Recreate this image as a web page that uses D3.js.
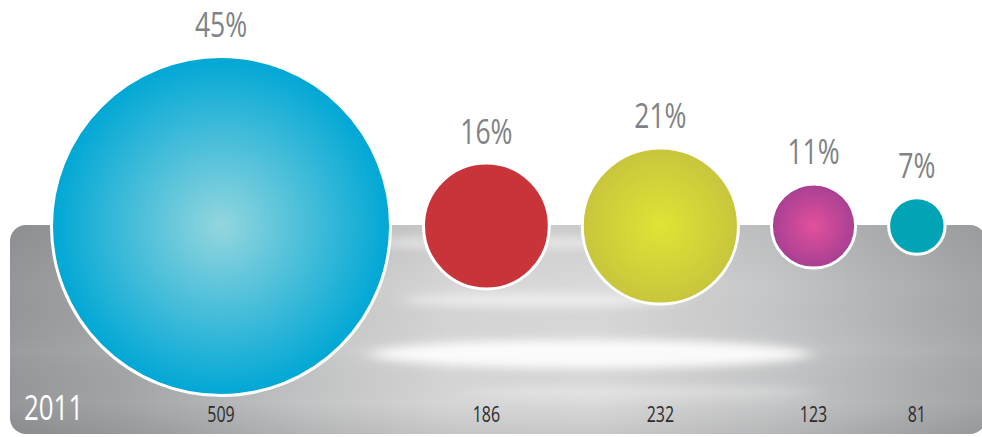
<!DOCTYPE html>
<html>
<head>
<meta charset="utf-8">
<script src="https://cdn.jsdelivr.net/npm/d3@7"></script>
<style>
  html, body { margin: 0; padding: 0; background: #ffffff; }
  svg { display: block; }
  text { font-family: "Open Sans", "Noto Sans", sans-serif; }
</style>
</head>
<body>
<svg id="chart" width="982" height="437"></svg>
<script>
// Values for 2011
const year = "2011";
const counts = [509, 186, 232, 123, 81];
const shares = [45, 16, 21, 11, 7];
const shareLabels = ["45%", "16%", "21%", "11%", "7%"];
const fills = [
  { center: "#93d6de", edge: "#00a7d5" },
  { center: "#c9333a", edge: "#c9333a" },
  { center: "#dfe435", edge: "#c8c53c" },
  { center: "#e2519b", edge: "#a73f93" },
  { center: "#00a4b5", edge: "#00a4b5" }
];

const W = 982, H = 437;
const svg = d3.select("#chart");
const defs = svg.append("defs");

// Radius grows linearly with the count
const r = d3.scaleLinear().domain([0, d3.max(counts)]).range([0, 168]);
const strokeW = 3;
const gap = 30;
const leftEdge = 50;
const cy = 226;
const narrow = 0.76; // horizontal squeeze for a condensed look

// Lay circles out left to right, edge to edge with a fixed gap
const xs = [];
let cursor = leftEdge;
counts.forEach((v, i) => {
  const outer = r(v) + strokeW;
  xs.push(cursor + outer);
  cursor += outer * 2 + gap;
});

// ---- Brushed metal panel ----
const panel = { x: 10, y: 225, w: 976, h: 209, rx: 16 };

const metal = defs.append("linearGradient").attr("id", "metal")
  .attr("x1", "0%").attr("x2", "100%").attr("y1", "0%").attr("y2", "0%");
[
  [0, "#95979a"], [0.12, "#a3a5a7"], [0.3, "#c2c3c4"], [0.45, "#d6d6d6"],
  [0.6, "#d9d9d9"], [0.78, "#c6c7c8"], [0.92, "#aeb0b2"], [1, "#a2a4a6"]
].forEach(([o, c]) => metal.append("stop").attr("offset", o).attr("stop-color", c));

const vshade = defs.append("linearGradient").attr("id", "vshade")
  .attr("x1", "0%").attr("x2", "0%").attr("y1", "0%").attr("y2", "100%");
[
  [0, "#000", 0.06], [0.3, "#000", 0], [0.6, "#fff", 0.05], [0.85, "#000", 0], [1, "#000", 0.08]
].forEach(([o, c, a]) => vshade.append("stop").attr("offset", o).attr("stop-color", c).attr("stop-opacity", a));

defs.append("clipPath").attr("id", "panelClip")
  .append("rect").attr("x", panel.x).attr("y", panel.y)
  .attr("width", panel.w).attr("height", panel.h).attr("rx", panel.rx);

defs.append("filter").attr("id", "glow").attr("x", "-50%").attr("y", "-200%")
  .attr("width", "200%").attr("height", "500%")
  .append("feGaussianBlur").attr("stdDeviation", "10 5");

defs.append("filter").attr("id", "streakBlur").attr("x", "-20%").attr("y", "-300%")
  .attr("width", "140%").attr("height", "700%")
  .append("feGaussianBlur").attr("stdDeviation", "14 1.5");

const pg = svg.append("g").attr("clip-path", "url(#panelClip)");
pg.append("rect").attr("x", panel.x).attr("y", panel.y)
  .attr("width", panel.w).attr("height", panel.h).attr("fill", "url(#metal)");
pg.append("rect").attr("x", panel.x).attr("y", panel.y)
  .attr("width", panel.w).attr("height", panel.h).attr("fill", "url(#vshade)");

// Highlights and brushed streaks
const glows = [
  { x: 590, y: 354, rx: 220, ry: 14, o: 0.9 },
  { x: 540, y: 300, rx: 140, ry: 7, o: 0.55 },
  { x: 500, y: 243, rx: 140, ry: 6, o: 0.5 },
  { x: 640, y: 392, rx: 180, ry: 6, o: 0.3 }
];
pg.selectAll("ellipse.glow").data(glows).join("ellipse")
  .attr("class", "glow")
  .attr("cx", d => d.x).attr("cy", d => d.y)
  .attr("rx", d => d.rx).attr("ry", d => d.ry)
  .attr("fill", "#ffffff").attr("opacity", d => d.o)
  .attr("filter", "url(#glow)");

const streaks = [
  { x1: 120, x2: 420, y: 262, o: 0.25 }, { x1: 400, x2: 880, y: 272, o: 0.3 },
  { x1: 300, x2: 760, y: 286, o: 0.35 }, { x1: 160, x2: 520, y: 318, o: 0.25 },
  { x1: 420, x2: 900, y: 326, o: 0.3 }, { x1: 260, x2: 700, y: 338, o: 0.3 },
  { x1: 380, x2: 860, y: 372, o: 0.35 }, { x1: 100, x2: 500, y: 382, o: 0.2 },
  { x1: 520, x2: 940, y: 402, o: 0.25 }, { x1: 200, x2: 640, y: 414, o: 0.2 }
];
pg.selectAll("line.streak").data(streaks).join("line")
  .attr("class", "streak")
  .attr("x1", d => d.x1).attr("x2", d => d.x2)
  .attr("y1", d => d.y).attr("y2", d => d.y)
  .attr("stroke", "#ffffff").attr("stroke-width", 3)
  .attr("opacity", d => d.o)
  .attr("filter", "url(#streakBlur)");

// ---- Circles ----
fills.forEach((f, i) => {
  const g = defs.append("radialGradient").attr("id", "fill" + i)
    .attr("cx", "50%").attr("cy", "50%").attr("r", "50%");
  g.append("stop").attr("offset", "0%").attr("stop-color", f.center);
  g.append("stop").attr("offset", "100%").attr("stop-color", f.edge);
});

svg.append("g").selectAll("circle").data(counts).join("circle")
  .attr("cx", (d, i) => xs[i])
  .attr("cy", cy)
  .attr("r", d => r(d) + strokeW / 2)
  .attr("fill", (d, i) => `url(#fill${i})`)
  .attr("stroke", "#ffffff")
  .attr("stroke-width", strokeW);

// Share labels above each circle
svg.append("g").selectAll("text").data(shares).join("text")
  .attr("transform", (d, i) =>
    `translate(${xs[i]},${cy - r(counts[i]) - strokeW - 18}) scale(${narrow + 0.02},1)`)
  .attr("text-anchor", "middle")
  .attr("font-size", 34)
  .attr("fill", "#808285")
  .text((d, i) => shareLabels[i]);

// Count labels along the bottom
svg.append("g").selectAll("text").data(counts).join("text")
  .attr("transform", (d, i) => `translate(${xs[i]},422) scale(${narrow},1)`)
  .attr("text-anchor", "middle")
  .attr("font-size", 21)
  .attr("fill", "#2b2b2b")
  .text(d => d);

// Year tag
svg.append("text")
  .attr("transform", `translate(24,420) scale(${narrow - 0.02},1)`)
  .attr("font-size", 35)
  .attr("fill", "#ffffff")
  .text(year);
</script>
</body>
</html>
